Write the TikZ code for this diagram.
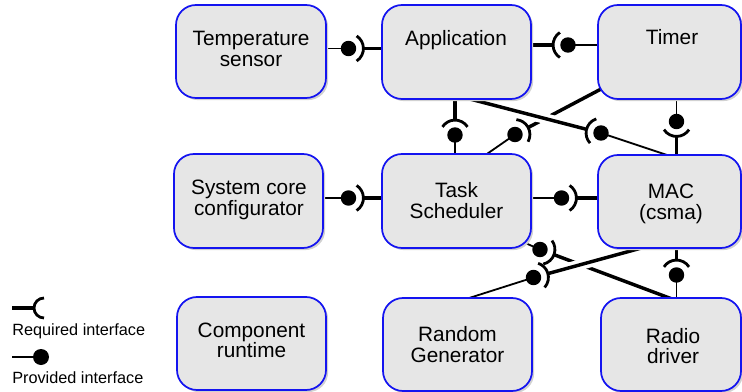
\documentclass[tikz,border=0pt]{standalone}
\usepackage{fontspec}
\setmainfont{Liberation Sans}
\usetikzlibrary{calc,backgrounds}
\definecolor{boxfill}{RGB}{230,230,230}
\definecolor{boxline}{RGB}{20,20,240}
\newcommand\boxtext[1]{\parbox[t]{5cm}{\centering\fontsize{15.6pt}{15.4pt}\selectfont #1}}
\newcommand\sockball[2]{%
  \pgfmathsetmacro\sbA{#2-57}%
  \pgfmathsetmacro\sbB{#2+57}%
  \fill (#1) circle[radius=5.8pt];
  \draw[sock] (#1) ++(\sbA:11.2pt) arc[start angle=\sbA, end angle=\sbB, radius=11.2pt];
}
\begin{document}
\begin{tikzpicture}[x=0.75pt,y=-0.75pt,
  box/.style={draw=boxline, fill=boxfill, line width=1.3pt, rounded corners=15pt, inner sep=0pt,
    preaction={fill=black!18, transform canvas={shift={(1.6pt,-1.6pt)}}}},
  lbl/.style={anchor=base, inner sep=0pt},
  legtxt/.style={anchor=base west, inner sep=0pt, font=\fontsize{12.2pt}{14pt}\selectfont},
  provline/.style={line width=1.35pt},
  reqline/.style={line width=2.6pt},
  sock/.style={line width=2.1pt},
  halo/.style={white, line width=8pt}]
\useasboundingbox (0,0) rectangle (742,392);

% boxes
\node[box, minimum width=112.5pt, minimum height=69.75pt] (temp)  at (251,51.5) {};
\node[box, minimum width=111.75pt, minimum height=70.5pt] (app)   at (456.5,52) {};
\node[box, minimum width=107.25pt, minimum height=70.5pt] (timer) at (669.5,52) {};
\node[box, minimum width=111.75pt, minimum height=70.5pt] (scc)   at (248.5,201) {};
\node[box, minimum width=111.75pt, minimum height=70.5pt] (ts)    at (456.5,201) {};
\node[box, minimum width=107.25pt, minimum height=69.75pt] (mac)  at (669.5,201.5) {};
\node[box, minimum width=111.75pt, minimum height=69.75pt] (comp) at (251.5,343.5) {};
\node[box, minimum width=111.75pt, minimum height=69.75pt] (rand) at (457.5,344.5) {};
\node[box, minimum width=105pt, minimum height=69.75pt] (radio)   at (671,344.5) {};

% labels
\node[lbl] (temp-t)  at (251,45.7)   {\boxtext{Temperature\\sensor}};
\node[lbl] (app-t)   at (456,45.7)   {\boxtext{Application}};
\node[lbl] (timer-t) at (672,45)     {\boxtext{Timer}};
\node[lbl] (scc-t)   at (249,195)    {\boxtext{System core\\configurator}};
\node[lbl] (ts-t)    at (456.5,197.7){\boxtext{Task\\Scheduler}};
\node[lbl] (mac-t)   at (671,199)    {\boxtext{MAC\\(csma)}};
\node[lbl] (comp-t)  at (251.5,337.3){\boxtext{Component\\runtime}};
\node[lbl] (rand-t)  at (457.5,341.7){\boxtext{Random\\Generator}};
\node[lbl] (radio-t) at (673,343.3)  {\boxtext{Radio\\driver}};

% interface coordinates (ball centres) and socket apexes
\coordinate (b1) at (348.5,48.5);  \coordinate (s1) at ($(b1)+(0:11.2pt)$);
\coordinate (b2) at (568,45);      \coordinate (s2) at ($(b2)+(180:11.2pt)$);
\coordinate (b3) at (455,135);     \coordinate (s3) at ($(b3)+(90:11.2pt)$);
\coordinate (b4) at (515,134.5);   \coordinate (s4) at ($(b4)+(27.9:11.2pt)$);
\coordinate (b5) at (601,133);     \coordinate (s5) at ($(b5)+(165.7:11.2pt)$);
\coordinate (b6) at (676.5,121.5); \coordinate (s6) at ($(b6)+(-90:11.2pt)$);
\coordinate (b7) at (348.5,198);   \coordinate (s7) at ($(b7)+(0:11.2pt)$);
\coordinate (b8) at (561.5,198);   \coordinate (s8) at ($(b8)+(0:11.2pt)$);
\coordinate (b9) at (540,249.5);   \coordinate (s9) at ($(b9)+(-20.3:11.2pt)$);
\coordinate (b10) at (533.5,277.5);\coordinate (s10) at ($(b10)+(15.1:11.2pt)$);
\coordinate (b11) at (676.5,275);  \coordinate (s11) at ($(b11)+(90:11.2pt)$);
% diagonal attachment points on box edges
\coordinate (e4ts)   at (484,156);
\coordinate (e4tm)   at (603,88);
\coordinate (e5app)  at (466,98);
\coordinate (e5mac)  at (670,156);
\coordinate (e9ts)   at (523,242);
\coordinate (e9rad)  at (672,299);
\coordinate (e10rnd) at (466,299);
\coordinate (e10mac) at (645,247);

\begin{pgfonlayer}{background}
  \fill[white] (0,0) rectangle (742,392);
  % Temperature sensor -> Application
  \draw[provline] (temp.east |- b1) -- (b1);
  \draw[reqline] (s1) -- (app.west |- s1);
  % Timer -> Application
  \draw[reqline] (app.east |- s2) -- (s2);
  \draw[provline] (b2) -- (timer.west |- b2);
  % Task Scheduler -> Application
  \draw[reqline] (s3 |- app.south) -- (s3);
  \draw[provline] (b3) -- (b3 |- ts.north);
  % Task Scheduler -> Timer
  \draw[provline] (e4ts) -- (b4);
  \draw[reqline] (s4) -- (e4tm);
  % MAC -> Application (crosses over)
  \draw[halo] ($(e5app)!0.55!(s5)$) -- ($(e5app)!0.76!(s5)$);
  \draw[reqline] (e5app) -- (s5);
  \draw[provline] (b5) -- (e5mac);
  % Timer -> MAC
  \draw[provline] (b6 |- timer.south) -- (b6);
  \draw[reqline] (s6) -- (s6 |- mac.north);
  % System core configurator -> Task Scheduler
  \draw[provline] (scc.east |- b7) -- (b7);
  \draw[reqline] (s7) -- (ts.west |- s7);
  % Task Scheduler -> MAC
  \draw[provline] (ts.east |- b8) -- (b8);
  \draw[reqline] (s8) -- (mac.west |- s8);
  % Task Scheduler -> Radio driver
  \draw[provline] (e9ts) -- (b9);
  \draw[reqline] (s9) -- (e9rad);
  % Random Generator -> MAC (crosses over)
  \draw[provline] (b10) -- (e10rnd);
  \draw[halo] ($(s10)!0.22!(e10mac)$) -- ($(s10)!0.47!(e10mac)$);
  \draw[reqline] (s10) -- (e10mac);
  % Radio driver -> MAC
  \draw[reqline] (s11 |- mac.south) -- (s11);
  \draw[provline] (b11) -- (b11 |- radio.north);
\end{pgfonlayer}

% balls and sockets
\sockball{b1}{0}
\sockball{b2}{180}
\sockball{b3}{90}
\sockball{b4}{27.9}
\sockball{b5}{165.7}
\sockball{b6}{-90}
\sockball{b7}{0}
\sockball{b8}{0}
\sockball{b9}{-20.3}
\sockball{b10}{15.1}
\sockball{b11}{90}

% legend
\coordinate (lg-req) at (12,308);
\coordinate (lg-reqc) at (44,308);
\draw[reqline] (lg-req) -- ($(lg-reqc)+(-7.5pt,0)$);
\draw[sock] ($(lg-reqc)+(0,7.5pt)$) arc[start angle=90, end angle=270, radius=7.5pt];
\node[legtxt] (lg-t1) at (12,335) {Required interface};
\coordinate (lg-prov) at (12,357);
\coordinate (lg-ball) at (41,357);
\draw[provline] (lg-prov) -- (lg-ball);
\fill (lg-ball) circle[radius=6pt];
\node[legtxt] (lg-t2) at (12,383.3) {Provided interface};
\end{tikzpicture}
\end{document}
